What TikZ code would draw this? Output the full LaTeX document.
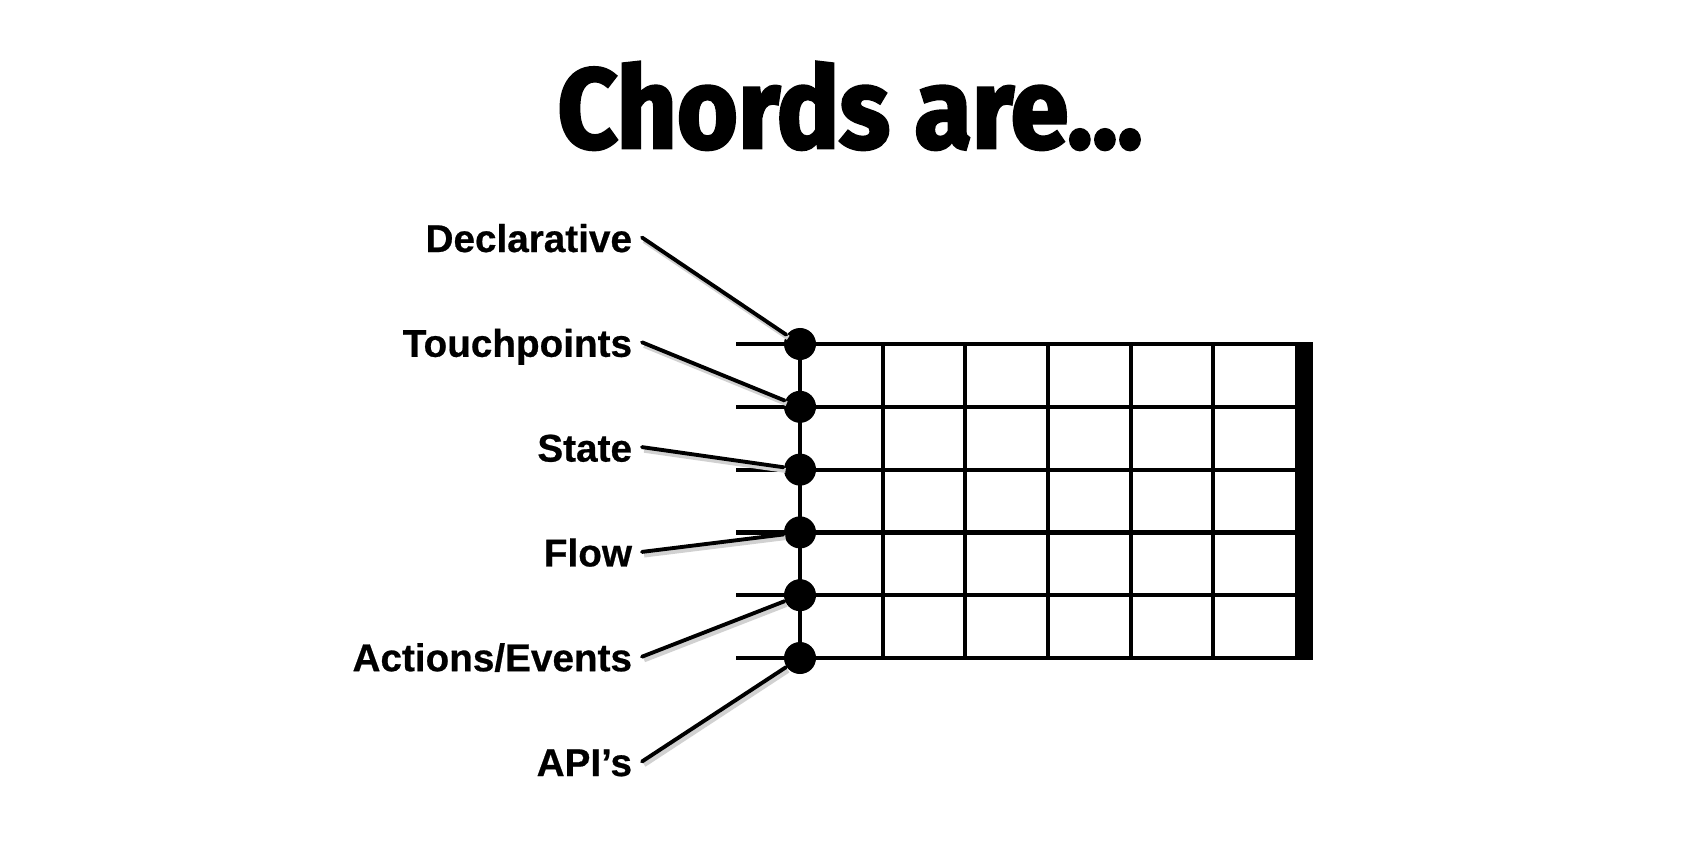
\documentclass[tikz,border=0pt]{standalone}
\usepackage{fontspec}
\setmainfont{Liberation Sans}
\newfontfamily\titlefont[FakeStretch=0.92,FakeBold=2.5]{Fira Sans}
\newfontfamily\labelfont[FakeBold=0.6]{Liberation Sans Bold}
\usepackage{tikz}
\usetikzlibrary{positioning,calc}

\begin{document}
\begin{tikzpicture}[
    x=0.01cm, y=-0.01cm,
    every node/.style={inner sep=0pt},
    heading/.style={font=\titlefont\bfseries\fontsize{32.3}{36}\selectfont, anchor=base},
    chordlabel/.style={font=\labelfont\fontsize{11}{13}\selectfont, anchor=base east,
        text height=0.29cm, text depth=0cm, outer xsep=0.1cm},
    fret/.style={line width=1.2pt, line cap=rect},
    nut/.style={fill=black},
    finger/.style={circle, fill=black, minimum size=0.32cm},
    pointer/.style={line width=1.1pt, line cap=round,
        preaction={draw=black!18, line width=1.4pt,
            transform canvas={shift={(0.6pt,-0.9pt)}}}},
]
\useasboundingbox (0,0) rectangle (1700,851);

% =====================================================================
% Title
% =====================================================================
\node[heading] (title) at (850,148) {Chords are...};

% =====================================================================
% Fretboard: six strings, frets, heavy bar at the right
% =====================================================================
\foreach \i in {0,...,5} {
    \pgfmathsetmacro{\y}{344+62.8*\i}
    \draw[fret] (738,\y) -- (1296,\y);
}
\foreach \i in {0,...,5} {
    \pgfmathsetmacro{\x}{800+82.67*\i}
    \draw[fret] (\x,344) -- (\x,658);
}
\fill[nut] (1295,342) rectangle (1313,660);

% Finger dots on the first fret line
\foreach \i in {1,...,6} {
    \node[finger] (dot\i) at (800,{344+62.8*(\i-1)}) {};
}

% =====================================================================
% Labels and pointers to the dots
% =====================================================================
\foreach \t [count=\i] in {Declarative,Touchpoints,State,Flow,Actions/Events,API’s} {
    \node[chordlabel] (lbl\i) at (642,{252+104.8*(\i-1)}) {\t};
    \draw[pointer] (lbl\i.east) -- (dot\i);
}

\end{tikzpicture}
\end{document}
